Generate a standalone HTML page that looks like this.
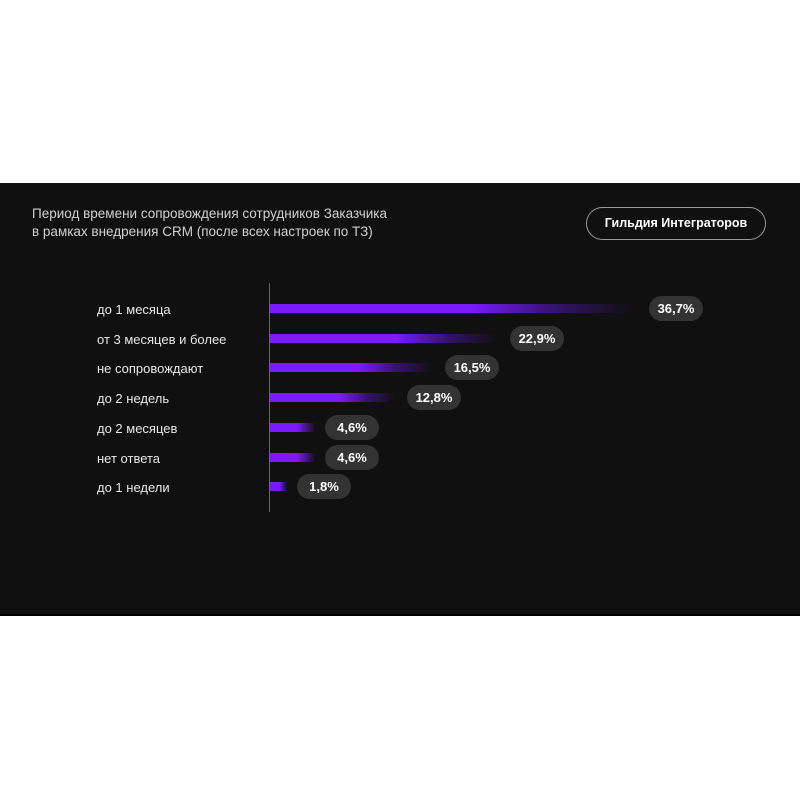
<!DOCTYPE html>
<html><head><meta charset="utf-8"><style>
body{margin:0;width:800px;height:800px;background:#fff;position:relative;font-family:"Liberation Sans","DejaVu Sans",sans-serif;overflow:hidden}
#band{position:absolute;left:0;top:183px;width:800px;height:431px;background:#111011;border-bottom:2px solid #000}
.t{position:absolute;color:#d0d0d0;font-size:13.5px;left:32px;line-height:18px}
.btn{position:absolute;left:586px;top:207px;width:178px;height:31px;border:1px solid #9a9a9a;border-radius:17px;color:#fff;font-size:12.5px;font-weight:bold;text-align:center;line-height:31px}
.lab{position:absolute;left:97px;color:#e8e8e8;font-size:13px;line-height:16px}
.bar{position:absolute;left:270px;height:9px}
.pill{position:absolute;height:25px;width:54px;border-radius:13px;background:#333;color:#fff;font-size:13px;font-weight:bold;text-align:center;line-height:25px}
#ax{position:absolute;left:269px;top:283px;width:1px;height:229px;background:#666}
</style></head><body>
<div id="band"></div>
<div class="t" style="top:205px">Период времени сопровождения сотрудников Заказчика<br>в рамках внедрения CRM (после всех настроек по ТЗ)</div>
<div class="btn">Гильдия Интеграторов</div>
<div id="ax"></div>

<div class="lab" style="top:302px">до 1 месяца</div>
<div class="lab" style="top:332px">от 3 месяцев и более</div>
<div class="lab" style="top:361px">не сопровождают</div>
<div class="lab" style="top:391px">до 2 недель</div>
<div class="lab" style="top:421px">до 2 месяцев</div>
<div class="lab" style="top:451px">нет ответа</div>
<div class="lab" style="top:480px">до 1 недели</div>

<div class="bar" style="top:304px;width:362px;background:linear-gradient(90deg,#7a1bff 0%,#7a1bff 55%,rgba(90,20,200,.5) 78%,rgba(17,16,17,0) 100%)"></div>
<div class="bar" style="top:334px;width:226px;background:linear-gradient(90deg,#7a1bff 0%,#7a1bff 55%,rgba(90,20,200,.5) 78%,rgba(17,16,17,0) 100%)"></div>
<div class="bar" style="top:363px;width:162px;background:linear-gradient(90deg,#7a1bff 0%,#7a1bff 55%,rgba(90,20,200,.5) 78%,rgba(17,16,17,0) 100%)"></div>
<div class="bar" style="top:393px;width:125px;background:linear-gradient(90deg,#7a1bff 0%,#7a1bff 55%,rgba(90,20,200,.5) 78%,rgba(17,16,17,0) 100%)"></div>
<div class="bar" style="top:423px;width:45px;background:linear-gradient(90deg,#7a1bff 0%,#7a1bff 60%,rgba(17,16,17,0) 100%)"></div>
<div class="bar" style="top:453px;width:45px;background:linear-gradient(90deg,#7a1bff 0%,#7a1bff 60%,rgba(17,16,17,0) 100%)"></div>
<div class="bar" style="top:482px;width:17px;background:linear-gradient(90deg,#7a1bff 0%,#7a1bff 55%,rgba(17,16,17,0) 100%)"></div>

<div class="pill" style="left:649px;top:296px">36,7%</div>
<div class="pill" style="left:510px;top:326px">22,9%</div>
<div class="pill" style="left:445px;top:355px">16,5%</div>
<div class="pill" style="left:407px;top:385px">12,8%</div>
<div class="pill" style="left:325px;top:415px">4,6%</div>
<div class="pill" style="left:325px;top:445px">4,6%</div>
<div class="pill" style="left:297px;top:474px">1,8%</div>
</body></html>
